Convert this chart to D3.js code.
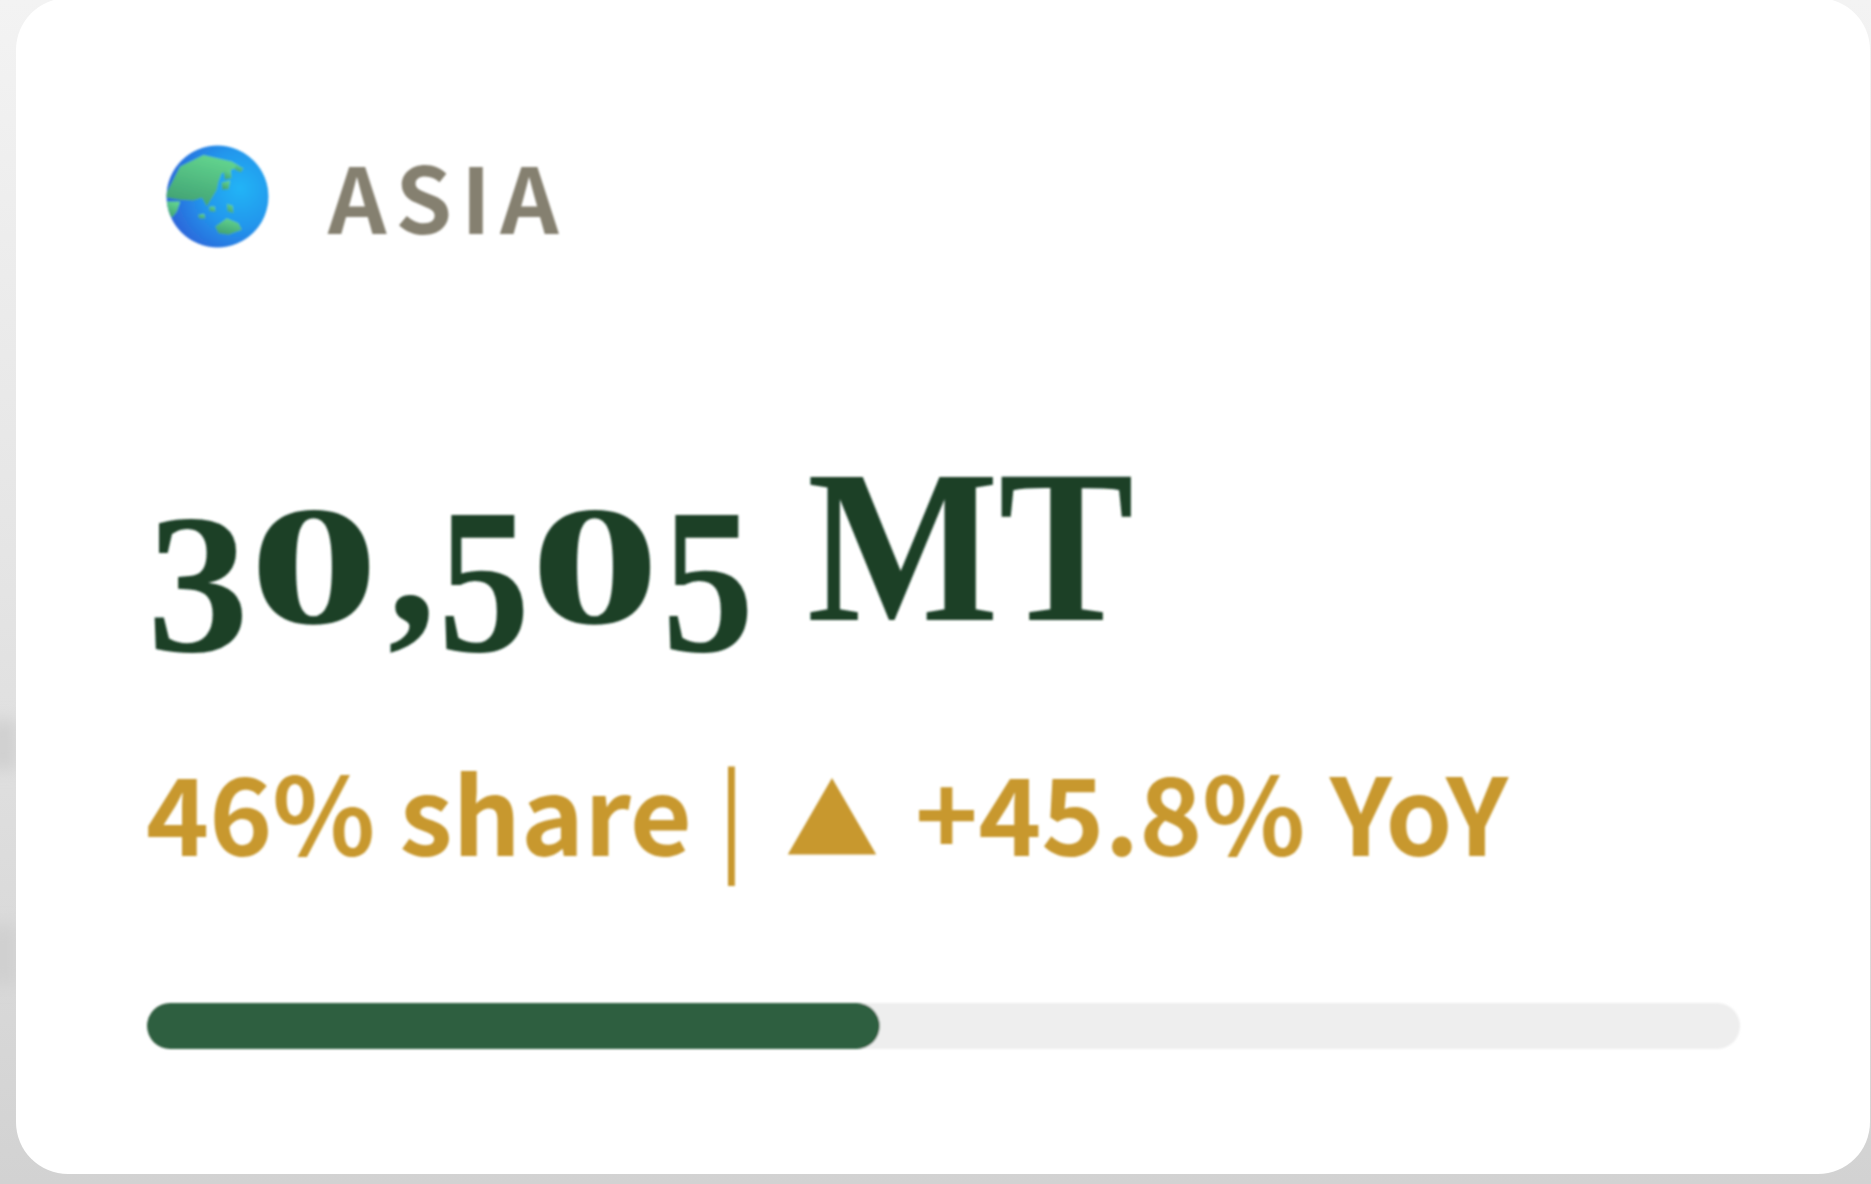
<!DOCTYPE html>
<html>
<head>
<meta charset="utf-8">
<title>Asia</title>
<script src="https://cdnjs.cloudflare.com/ajax/libs/d3/7.8.5/d3.min.js"></script>
<style>
  html, body { margin: 0; padding: 0; background: #e2e2e2; overflow: hidden; }
  svg { display: block; }
</style>
</head>
<body>
<svg id="chart"></svg>
<script>
const regions = ["ASIA"]
const volumes = [30505]
const units = ["MT"]
const shares = [46]
const yoy = [45.8]

const W = 1871, H = 1184
const svg = d3.select("#chart").attr("width", W).attr("height", H)
const defs = svg.append("defs")

// page backdrop, goes darker towards the bottom
const bg = defs.append("linearGradient").attr("id", "bg").attr("x1", 0).attr("x2", 0).attr("y1", 0).attr("y2", 1)
bg.append("stop").attr("offset", 0).attr("stop-color", "#f3f3f3")
bg.append("stop").attr("offset", 0.5).attr("stop-color", "#e4e4e4")
bg.append("stop").attr("offset", 1).attr("stop-color", "#d2d2d2")
svg.append("rect").attr("width", W).attr("height", H).attr("fill", "url(#bg)")

defs.append("filter").attr("id", "blob").append("feGaussianBlur").attr("stdDeviation", 8)
svg.append("g").attr("filter", "url(#blob)").selectAll("rect")
  .data([[720, 50], [925, 60]])
  .join("rect")
  .attr("x", -10).attr("y", d => d[0]).attr("width", 26).attr("height", d => d[1])
  .attr("fill", "#cfcfcf")

// card
svg.append("rect")
  .attr("x", 16).attr("y", -2).attr("width", W - 16 + 1 - 2).attr("height", 1176)
  .attr("rx", 52).attr("fill", "#ffffff")

// the reference is a soft upscale, so everything on the card gets a touch of blur
defs.append("filter").attr("id", "soft")
  .attr("filterUnits", "userSpaceOnUse").attr("x", 0).attr("y", 0).attr("width", W).attr("height", H)
  .append("feGaussianBlur").attr("stdDeviation", 0.9)
const card = svg.append("g").attr("filter", "url(#soft)")

// globe icon
const sea = defs.append("radialGradient").attr("id", "sea").attr("cx", 0.72).attr("cy", 0.42).attr("r", 0.85)
sea.append("stop").attr("offset", 0).attr("stop-color", "#22b4f6")
sea.append("stop").attr("offset", 0.45).attr("stop-color", "#2296ec")
sea.append("stop").attr("offset", 1).attr("stop-color", "#2f55d4")
const landGrad = defs.append("linearGradient").attr("id", "land").attr("x1", 0.6).attr("y1", 0).attr("x2", 0.2).attr("y2", 1)
landGrad.append("stop").attr("offset", 0).attr("stop-color", "#62d48e")
landGrad.append("stop").attr("offset", 1).attr("stop-color", "#3f9f72")
defs.append("clipPath").attr("id", "ball").append("circle").attr("r", 153)

const globe = card.append("g").attr("transform", "translate(217.5,196.5) scale(0.333)")
globe.append("circle").attr("r", 153).attr("fill", "url(#sea)")
const landShapes = [
  "M-160 2L-112-90L-42-125L43-105L68-90L13-70L3-45L-2-20L-32 30L-47 4L-72 12L-112 10Z",
  "M-160 15L-112 15L-122 45L-135 62L-160 50Z",
  "M-7 90L28 65L63 80L73 100L33 115L3 110Z",
  "M55-95L78-85L70-72L52-80Z",
  "M18-75L40-80L42-55L22-50Z",
  "M12-42L38-48L34-22L14-20Z",
  "M28 22L46 28L48 50L30 44Z",
  "M-25 30L-8 30L-6 46L-24 44Z",
  "M-58 55L-40 52L-36 66L-55 66Z"
]
globe.append("g").attr("clip-path", "url(#ball)")
  .selectAll("path").data(landShapes).join("path").attr("d", d => d).attr("fill", "url(#land)")

// region label
card.append("text")
  .attr("x", 328).attr("y", 234)
  .attr("font-family", "'Noto Sans CJK JP','Noto Sans',sans-serif")
  .attr("font-size", 91).attr("font-weight", 700)
  .attr("letter-spacing", 9)
  .attr("fill", "#85806f")
  .text(regions[0])

// big number. No old-style figures in the installed serifs, so each glyph gets its
// own size, drop and stretch to come near the original
const digitStyle = {
  "3": {size: 200, drop: 28, len: 102},
  "5": {size: 207, drop: 28, len: 92},
  "0": {size: 170, drop: 0, len: 130},
  ",": {size: 190, drop: 0, len: 48}
}
const glyphX = [147, 249, 388, 438, 530, 662]
const big = card.append("text")
  .attr("y", 623)
  .attr("font-family", "'Liberation Serif',serif")
  .attr("font-weight", 700)
  .attr("fill", "#1b4028")
Array.from(d3.format(",")(volumes[0])).forEach((ch, i) => {
  const s = digitStyle[ch]
  big.append("tspan")
    .attr("x", glyphX[i])
    .attr("font-size", s.size)
    .attr("baseline-shift", -s.drop)
    .attr("textLength", s.len)
    .attr("lengthAdjust", "spacingAndGlyphs")
    .text(ch)
})
big.append("tspan").attr("font-size", 40).text(" ")
big.append("tspan").attr("x", 807).attr("y", 620).attr("font-size", 218)
  .attr("textLength", 327).attr("lengthAdjust", "spacingAndGlyphs")
  .text(units[0])

// share and change
const line = card.append("text")
  .attr("y", 856)
  .attr("font-family", "'Noto Sans CJK JP','Noto Sans',sans-serif")
  .attr("font-size", 107).attr("font-weight", 700)
  .attr("fill", "#c8982e")
line.append("tspan").attr("x", 146).text(`${shares[0]}% share `)
line.append("tspan").attr("x", 717).attr("font-weight", 400).text("| ")
line.append("tspan").attr("x", 785).attr("font-size", 94).text("▲ ")
line.append("tspan").attr("x", 915).text(`+${yoy[0]}% YoY`)

// progress bar
const x = d3.scaleLinear().domain([0, 100]).range([147, 1740])
card.append("rect")
  .attr("x", x(0)).attr("y", 1003).attr("width", x(100) - x(0)).attr("height", 46)
  .attr("rx", 23).attr("fill", "#eeeeee")
card.append("rect")
  .attr("x", x(0)).attr("y", 1003).attr("width", x(shares[0]) - x(0)).attr("height", 46)
  .attr("rx", 23).attr("fill", "#2d5f3f")
</script>
</body>
</html>
